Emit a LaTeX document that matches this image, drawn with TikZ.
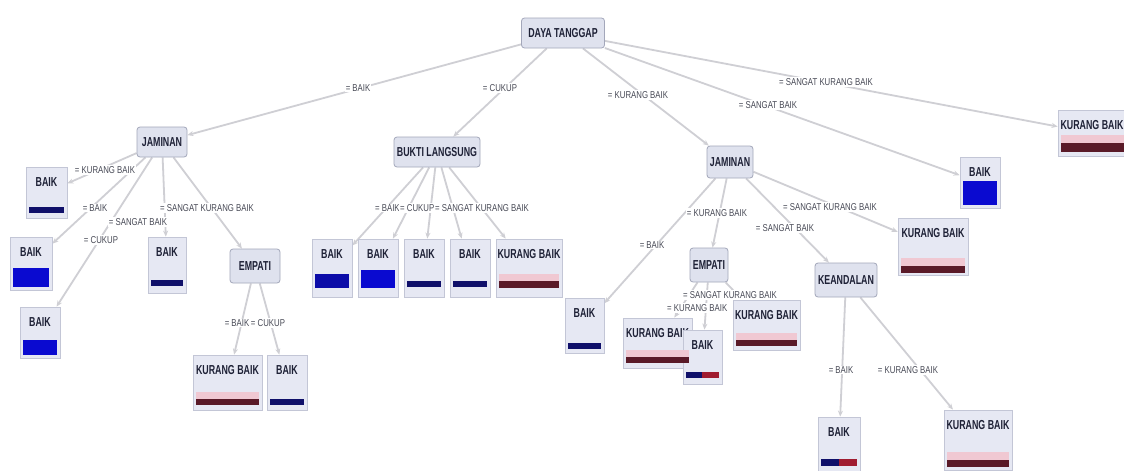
\documentclass[tikz,border=0pt]{standalone}
\usepackage{fontspec}
\setmainfont{Liberation Sans}
\newfontfamily\nodefont[FakeStretch=0.68]{Liberation Sans}
\newfontfamily\edgefont[FakeStretch=0.78]{Liberation Sans}
\usetikzlibrary{arrows.meta}

\definecolor{nodefill}{HTML}{DFE2EE}
\definecolor{nodeline}{HTML}{A3A7BA}
\definecolor{leaffill}{HTML}{E6E8F3}
\definecolor{leafline}{HTML}{C3C6D6}
\definecolor{edgecol}{HTML}{CFCFD4}
\definecolor{txt}{HTML}{1E2136}
\definecolor{lbltxt}{HTML}{484A56}
\definecolor{navybar}{HTML}{10106A}
\definecolor{bluebar}{HTML}{0A0AD0}
\definecolor{midblue}{HTML}{0C0CA8}
\definecolor{maroonbar}{HTML}{5A1A28}
\definecolor{pinkband}{HTML}{F0C8D2}
\definecolor{redbar}{HTML}{A01C30}

\pgfdeclarelayer{paper}
\pgfdeclarelayer{edgelayer}
\pgfdeclarelayer{labellayer}
\pgfsetlayers{paper,edgelayer,labellayer,main}

\tikzset{
  inner/.style={draw=nodeline, fill=nodefill, rounded corners=3pt, line width=0.8pt,
    font=\nodefont\bfseries\fontsize{13}{13}\selectfont, text=txt, inner sep=0pt},
  leafbox/.style={draw=leafline, fill=leaffill, line width=0.8pt, inner sep=0pt},
  leaftxt/.style={font=\nodefont\bfseries\fontsize{13}{13}\selectfont, text=txt, inner sep=0pt},
  elabel/.style={fill=white, inner sep=1pt, font=\edgefont\fontsize{10}{10}\selectfont, text=lbltxt},
  edge/.style={draw=edgecol, line width=1.8pt, -{Stealth[length=6pt,width=5pt]}},
}

% leaf: name, centre x, centre y, width, height, class text
\newcommand\leafnode[6]{%
  \node[leafbox, minimum width=#4pt, minimum height=#5pt] (#1) at (#2,#3) {};
  \node[leaftxt] (#1-t) at ([yshift=-15pt]#1.north) {#6};
}

\begin{document}
\begin{tikzpicture}[x=1pt,y=-1pt]
\begin{pgfonlayer}{paper}
\fill[white] (0,0) rectangle (1124,471);
\end{pgfonlayer}
\useasboundingbox (0,0) rectangle (1124,471);

% inner decision nodes
\node[inner, minimum width=83pt, minimum height=30pt] (root)  at (563,33)  {DAYA TANGGAP};
\node[inner, minimum width=50pt, minimum height=30pt] (jamL)  at (162,142) {JAMINAN};
\node[inner, minimum width=86pt, minimum height=30pt] (bukti) at (437,152) {BUKTI LANGSUNG};
\node[inner, minimum width=46pt, minimum height=32pt] (jamR)  at (730,162) {JAMINAN};
\node[inner, minimum width=50pt, minimum height=34pt] (empL)  at (255,266) {EMPATI};
\node[inner, minimum width=38pt, minimum height=34pt] (empR)  at (709,265) {EMPATI};
\node[inner, minimum width=62pt, minimum height=34pt] (kean)  at (846,280) {KEANDALAN};

% leaf nodes
\leafnode{lf1}{1092}{133}{68}{46}{KURANG BAIK}
\leafnode{lf2}{980}{182.5}{40}{51}{BAIK}
\leafnode{a1}{46.5}{192.5}{41}{51}{BAIK}
\leafnode{a2}{31}{263.5}{42}{53}{BAIK}
\leafnode{a3}{40}{332.5}{40}{51}{BAIK}
\leafnode{a4}{167}{265}{38}{56}{BAIK}
\leafnode{b1}{227.5}{382.5}{69}{55}{KURANG BAIK}
\leafnode{b2}{287}{382.5}{40}{55}{BAIK}
\leafnode{c1}{332}{268}{40}{58}{BAIK}
\leafnode{c2}{378}{268}{40}{58}{BAIK}
\leafnode{c3}{424}{268}{40}{58}{BAIK}
\leafnode{c4}{470}{268}{40}{58}{BAIK}
\leafnode{c5}{529}{268}{66}{58}{KURANG BAIK}
\leafnode{d1}{584.5}{325.5}{39}{55}{BAIK}
\leafnode{d4}{933}{246.5}{70}{57}{KURANG BAIK}
\leafnode{e3}{766.5}{325}{67}{50}{KURANG BAIK}
\leafnode{e1}{657.5}{343}{69}{50}{KURANG BAIK}
\leafnode{e2}{702.5}{357}{39}{54}{BAIK}
\leafnode{f1}{839}{444.5}{42}{55}{BAIK}
\leafnode{f2}{978}{440}{68}{60}{KURANG BAIK}

% class distribution bars
\fill[pinkband]  (1061,135) rectangle (1126,143);
\fill[maroonbar] (1061,143) rectangle (1126,152);
\fill[bluebar]   (963,181) rectangle (997,205);
\fill[navybar]   (29,207) rectangle (64,213);
\fill[bluebar]   (13,268) rectangle (49,287);
\fill[bluebar]   (23,340) rectangle (57,355);
\fill[navybar]   (151,280) rectangle (183,286);
\fill[pinkband]  (196,392) rectangle (259,399);
\fill[maroonbar] (196,399) rectangle (259,405);
\fill[navybar]   (270,399) rectangle (304,405);
\fill[midblue]   (315,274) rectangle (349,288);
\fill[bluebar]   (361,270) rectangle (395,288);
\fill[navybar]   (407,281) rectangle (441,287);
\fill[navybar]   (453,281) rectangle (487,287);
\fill[pinkband]  (499,274) rectangle (559,281);
\fill[maroonbar] (499,281) rectangle (559,288);
\fill[navybar]   (568,343) rectangle (601,349);
\fill[pinkband]  (901,258) rectangle (965,266);
\fill[maroonbar] (901,266) rectangle (965,273);
\fill[pinkband]  (736,333) rectangle (797,340);
\fill[maroonbar] (736,340) rectangle (797,346);
\fill[pinkband]  (626,350) rectangle (689,357);
\fill[maroonbar] (626,357) rectangle (689,363);
\fill[navybar]   (686,372) rectangle (702,378);
\fill[redbar]    (702,372) rectangle (719,378);
\fill[navybar]   (821,459) rectangle (839,466);
\fill[redbar]    (839,459) rectangle (857,466);
\fill[pinkband]  (947,452) rectangle (1009,460);
\fill[maroonbar] (947,460) rectangle (1009,467);

% connectors, drawn below the boxes
\begin{pgfonlayer}{edgelayer}
\foreach \p/\c in {root/jamL, root/bukti, root/jamR, root/lf2, root/lf1,
                   jamL/a1, jamL/a2, jamL/a3, jamL/a4, jamL/empL,
                   empL/b1, empL/b2,
                   bukti/c1, bukti/c2, bukti/c3, bukti/c4, bukti/c5,
                   jamR/d1, jamR/empR, jamR/kean, jamR/d4,
                   empR/e1, empR/e2, empR/e3,
                   kean/f1, kean/f2}
  \draw[edge] (\p) -- (\c);
\end{pgfonlayer}

% branch conditions
\begin{pgfonlayer}{labellayer}
\node[elabel] (l-r1) at (358,88)  {= BAIK};
\node[elabel] (l-r2) at (500,88)  {= CUKUP};
\node[elabel] (l-r3) at (638,95)  {= KURANG BAIK};
\node[elabel] (l-r4) at (768,105) {= SANGAT BAIK};
\node[elabel] (l-r5) at (826,82)  {= SANGAT KURANG BAIK};

\node[elabel] (l-j1) at (105,170) {= KURANG BAIK};
\node[elabel] (l-j2) at (95,208)  {= BAIK};
\node[elabel] (l-j3) at (101,240) {= CUKUP};
\node[elabel] (l-j4) at (138,222) {= SANGAT BAIK};
\node[elabel, anchor=west] (l-j5) at (159,208) {= SANGAT KURANG BAIK};

\node[elabel] (l-e1) at (237,323) {= BAIK};
\node[elabel] (l-e2) at (268,323) {= CUKUP};

\node[elabel, anchor=west] (l-b1) at (374,208) {= BAIK};
\node[elabel, anchor=west] (l-b2) at (399,208) {= CUKUP};
\node[elabel, anchor=west] (l-b5) at (434,208) {= SANGAT KURANG BAIK};

\node[elabel] (l-k1) at (652,245) {= BAIK};
\node[elabel] (l-k2) at (717,213) {= KURANG BAIK};
\node[elabel] (l-k3) at (785,228) {= SANGAT BAIK};
\node[elabel] (l-k4) at (830,207) {= SANGAT KURANG BAIK};

\node[elabel, anchor=west] (l-m2) at (666,308) {= KURANG BAIK};
\node[elabel, anchor=west] (l-m3) at (682,295) {= SANGAT KURANG BAIK};

\node[elabel] (l-n1) at (841,370) {= BAIK};
\node[elabel] (l-n2) at (908,370) {= KURANG BAIK};
\end{pgfonlayer}
\end{tikzpicture}
\end{document}
